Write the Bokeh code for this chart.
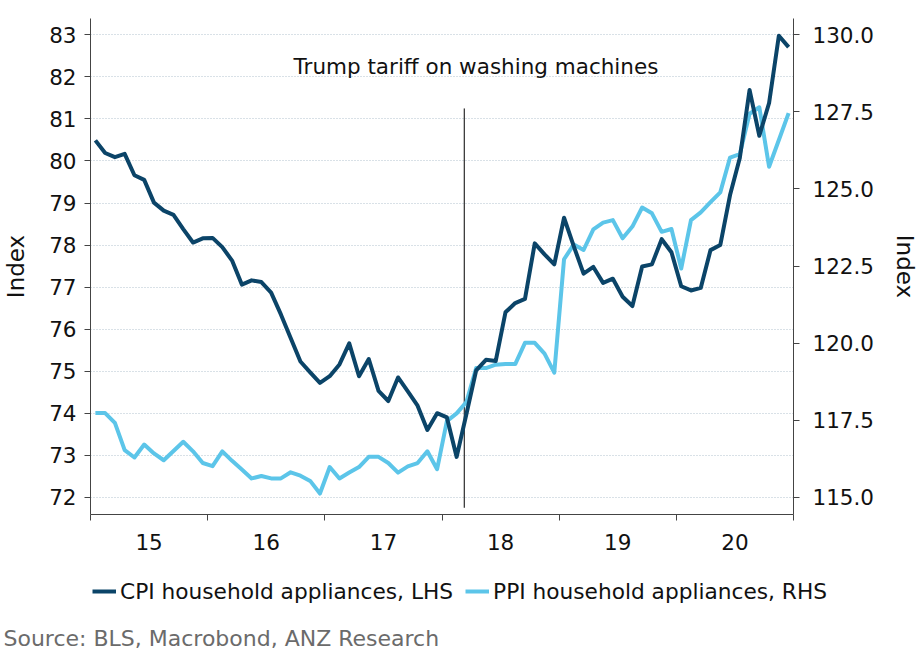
import numpy as np
import pandas as pd
from bokeh.plotting import figure
from bokeh.layouts import column
from bokeh.models import (ColumnDataSource, Range1d, LinearAxis, FixedTicker,
                          PrintfTickFormatter, Legend, LegendItem, Label)
from bokeh.embed import file_html
from bokeh.resources import INLINE

# ---------------- data (monthly, Jan 2015 - Dec 2020) ----------------
cpi = [80.49, 80.19, 80.09, 80.17, 79.66, 79.55, 79.01, 78.82, 78.72, 78.38, 78.06, 78.16,
       78.17, 77.95, 77.63, 77.06, 77.16, 77.12, 76.87, 76.35, 75.79, 75.23, 74.97, 74.72,
       74.88, 75.16, 75.66, 74.88, 75.29, 74.53, 74.29, 74.85, 74.52, 74.18, 73.60, 74.00,
       73.90, 72.96, 73.98, 75.02, 75.27, 75.24, 76.40, 76.62, 76.72, 78.04, 77.78, 77.54,
       78.65, 77.97, 77.32, 77.48, 77.10, 77.20, 76.77, 76.55, 77.49, 77.54, 78.14, 77.83,
       77.02, 76.92, 76.98, 77.88, 78.00, 79.19, 80.07, 81.69, 80.60, 81.38, 82.98, 82.71]

ppi = [117.73, 117.73, 117.41, 116.53, 116.29, 116.71, 116.42, 116.20, 116.50, 116.80, 116.49, 116.11,
       116.01, 116.49, 116.18, 115.90, 115.61, 115.69, 115.61, 115.61, 115.81, 115.70, 115.53, 115.12,
       115.98, 115.61, 115.80, 115.98, 116.31, 116.31, 116.11, 115.80, 116.00, 116.11, 116.49, 115.91,
       117.47, 117.72, 118.09, 119.19, 119.19, 119.30, 119.32, 119.32, 120.01, 120.01, 119.66, 119.04,
       122.72, 123.20, 123.02, 123.69, 123.91, 123.99, 123.40, 123.78, 124.40, 124.21, 123.61, 123.70,
       122.42, 123.99, 124.24, 124.57, 124.89, 126.02, 126.13, 127.44, 127.65, 125.72, 126.59, 127.46]

start_year = 2015
end_year = 2021
year_labels = ["15", "16", "17", "18", "19", "20"]
left_ticks = [72, 73, 74, 75, 76, 77, 78, 79, 80, 81, 82, 83]
right_ticks = [115.0, 117.5, 120.0, 122.5, 125.0, 127.5, 130.0]
left_range = (71.59, 83.39)
right_range = (114.44, 130.53)

tariff_date = 2018.19
tariff_line_span = (71.75, 81.25)
annotation_pos = (2018.29, 82.25)
annotation_text = "Trump tariff on washing machines"
series_names = ["CPI household appliances, LHS", "PPI household appliances, RHS"]
source_text = "Source: BLS, Macrobond, ANZ Research"

CPI_COLOR = "#0b4468"
PPI_COLOR = "#5cc5e9"
FONT = "DejaVu Sans"
TXT = "21.5px"
AX = "#444444"

W = 921
H_MAIN = 560
H_FOOT = 94
FRAME_L, FRAME_R, FRAME_T, FRAME_B = 89, 795, 18, 514

months = pd.date_range(f"{start_year}-01-01", periods=len(cpi), freq="MS")
xdec = [d.year + (d.month - 1 + 0.5) / 12 for d in months]
src = ColumnDataSource(dict(x=xdec, cpi=cpi, ppi=ppi))

p = figure(width=W, height=H_MAIN, output_backend="svg", toolbar_location=None,
           x_range=Range1d(start_year, end_year), y_range=Range1d(*left_range),
           min_border_left=FRAME_L, min_border_right=W - FRAME_R, min_border_top=FRAME_T,
           min_border_bottom=H_MAIN - FRAME_B)
p.outline_line_color = None
p.extra_y_ranges = {"right": Range1d(*right_range)}
p.frame_align = False

# grid
p.xgrid.visible = False
p.ygrid.grid_line_color = "#b3c2ce"
p.ygrid.grid_line_dash = "1 2"
p.ygrid.grid_line_width = 1

# x axis: tick marks at year boundaries, labels centred in each year
xa = p.xaxis[0]
mid_years = [start_year + k + 0.5 for k in range(len(year_labels))]
xa.ticker = FixedTicker(ticks=mid_years, minor_ticks=list(range(start_year, end_year + 1)))
xa.major_label_overrides = {m: lab for m, lab in zip(mid_years, year_labels)}
xa.major_tick_line_color = None
xa.major_tick_out = 6
xa.major_tick_in = 0
xa.minor_tick_out = 6
xa.minor_tick_in = 0
xa.minor_tick_line_color = AX
xa.axis_line_color = AX
xa.major_label_standoff = 13
xa.major_label_text_font = FONT
xa.major_label_text_font_size = TXT
xa.major_label_text_color = "#111111"

# left axis
ya = p.yaxis[0]
ya.ticker = FixedTicker(ticks=left_ticks)
ya.minor_tick_line_color = None
ya.major_tick_out = 6
ya.major_tick_in = 0
ya.major_tick_line_color = AX
ya.axis_line_color = AX
ya.major_label_standoff = 8
ya.major_label_text_font = FONT
ya.major_label_text_font_size = TXT
ya.major_label_text_color = "#111111"
ya.axis_label = "Index"
ya.axis_label_text_font = FONT
ya.axis_label_text_font_size = "23px"
ya.axis_label_text_font_style = "normal"
ya.axis_label_text_color = "#111111"
ya.axis_label_standoff = 17

# right axis
ra = LinearAxis(y_range_name="right", ticker=FixedTicker(ticks=right_ticks),
                formatter=PrintfTickFormatter(format="%.1f"))
ra.minor_tick_line_color = None
ra.major_tick_out = 6
ra.major_tick_in = 0
ra.major_tick_line_color = AX
ra.axis_line_color = AX
ra.major_label_standoff = 13
ra.major_label_text_font = FONT
ra.major_label_text_font_size = TXT
ra.major_label_text_color = "#111111"
ra.axis_label = "Index"
ra.axis_label_text_font = FONT
ra.axis_label_text_font_size = "23px"
ra.axis_label_text_font_style = "normal"
ra.axis_label_text_color = "#111111"
ra.axis_label_standoff = 15
p.add_layout(ra, "right")

# tariff marker
p.segment(x0=[tariff_date], y0=[tariff_line_span[0]], x1=[tariff_date], y1=[tariff_line_span[1]],
          line_color="black", line_width=1)

# series
r_ppi = p.line(x="x", y="ppi", source=src, y_range_name="right", line_color=PPI_COLOR,
               line_width=4, line_join="round")
r_cpi = p.line(x="x", y="cpi", source=src, line_color=CPI_COLOR, line_width=4, line_join="round")

p.add_layout(Label(x=annotation_pos[0], y=annotation_pos[1], text=annotation_text,
                   text_align="center", text_baseline="middle", text_font=FONT,
                   text_font_size=TXT, text_color="#111111"))

# ---------------- footer figure: legend + source (pixel coordinates) ----------------
f = figure(width=W, height=H_FOOT, output_backend="svg", toolbar_location=None,
           x_range=Range1d(0, W), y_range=Range1d(0, H_FOOT), min_border=0,
           min_border_left=0, min_border_right=0, min_border_top=0, min_border_bottom=0,
           x_axis_type=None, y_axis_type=None)
f.outline_line_color = None
f.grid.visible = False
f.frame_align = False
# legend keys: the same series drawn in the footer's pixel space fall outside its view
k_cpi = f.line(x="x", y="cpi", source=src, line_color=CPI_COLOR, line_width=4)
k_ppi = f.line(x="x", y="ppi", source=src, line_color=PPI_COLOR, line_width=4)

legend = Legend(items=[LegendItem(label=series_names[0], renderers=[k_cpi]),
                       LegendItem(label=series_names[1], renderers=[k_ppi])],
                orientation="horizontal", location=(92, 50), padding=0, margin=0,
                spacing=12, label_standoff=4, glyph_width=24, glyph_height=26,
                border_line_color=None, background_fill_alpha=0,
                label_text_font=FONT, label_text_font_size="21.7px", label_text_color="#111111")
f.add_layout(legend)

f.add_layout(Label(x=3, y=16, text=source_text, text_baseline="middle", text_font=FONT,
                   text_font_size="22px", text_color="#6b6b6b"))

open("out.html", "w").write(file_html(column(p, f), INLINE))
